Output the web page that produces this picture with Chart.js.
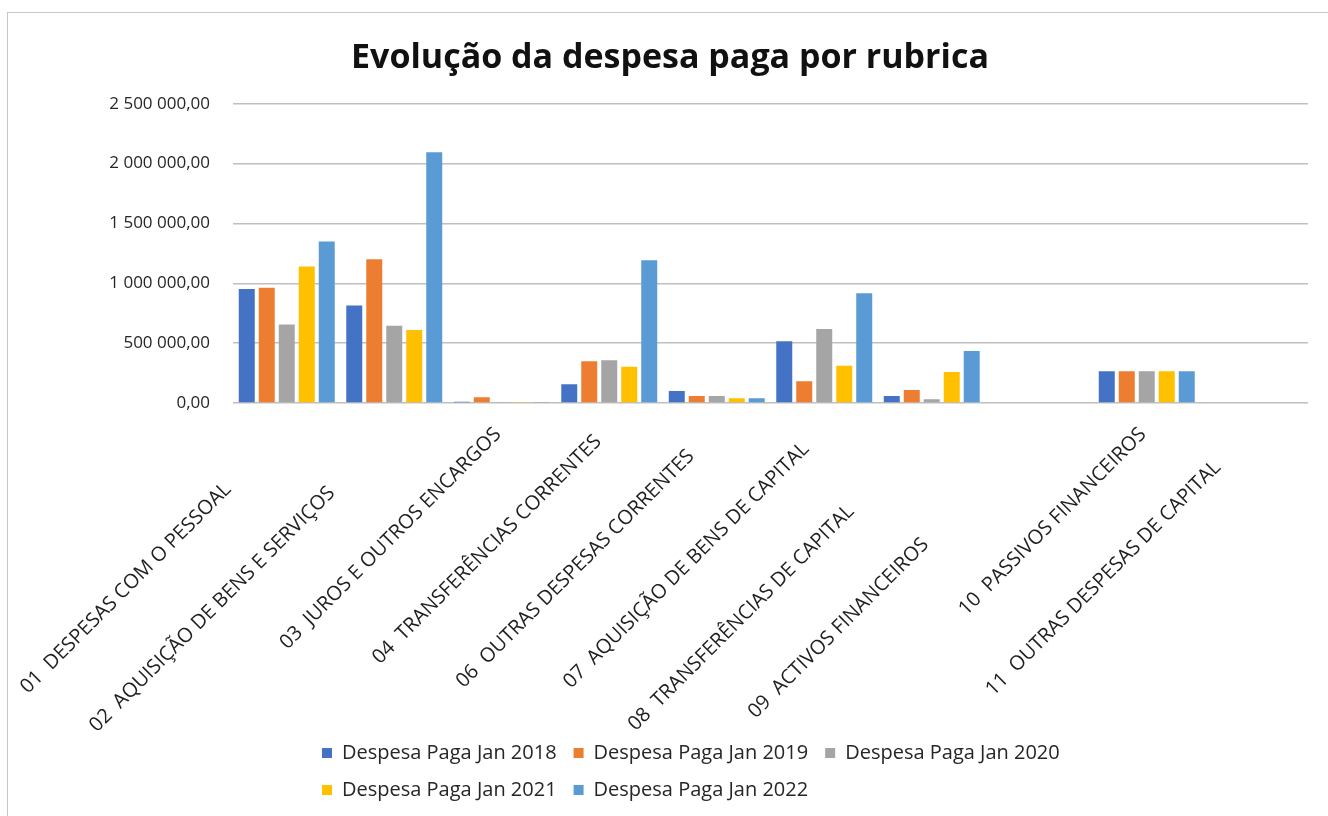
<!DOCTYPE html>
<html>
<head>
<meta charset="utf-8">
<script src="https://cdn.jsdelivr.net/npm/chart.js@4"></script>
<style>
  html, body { margin: 0; padding: 0; background: #fff; overflow: hidden; }
  #frame { position: absolute; left: 7px; top: 12px; width: 1400px; height: 900px;
           border-top: 1px solid #c6c6c6; border-left: 1px solid #c6c6c6; }
  #wrap { position: absolute; left: 0; top: 0; width: 1328px; height: 816px; }
</style>
</head>
<body>
<div id="frame"></div>
<div id="wrap"><canvas id="chart" width="1328" height="816"></canvas></div>
<script>
/* DADOS */
const categories = [
  '01  DESPESAS COM O PESSOAL' + ' '.repeat(16),
  '02  AQUISIÇÃO DE BENS E SERVIÇOS' + ' '.repeat(17),
  '03  JUROS E OUTROS ENCARGOS' + ' ',
  '04  TRANSFERÊNCIAS CORRENTES' + ' '.repeat(3),
  '06  OUTRAS DESPESAS CORRENTES' + ' '.repeat(7),
  '07  AQUISIÇÃO DE BENS DE CAPITAL' + ' '.repeat(5),
  '08  TRANSFERÊNCIAS DE CAPITAL' + ' '.repeat(22),
  '09  ACTIVOS FINANCEIROS' + ' '.repeat(31),
  '10  PASSIVOS FINANCEIROS' + ' ',
  '11  OUTRAS DESPESAS DE CAPITAL' + ' '.repeat(10)
];

const series = [
  'Despesa Paga Jan 2018',
  'Despesa Paga Jan 2019',
  'Despesa Paga Jan 2020',
  'Despesa Paga Jan 2021',
  'Despesa Paga Jan 2022'
];

const paga2018 = [953000, 814000, 11000, 156000, 100000, 516000, 58000, null, 266000, null];
const paga2019 = [964000, 1201000, 48000, 349000, 58000, 181000, 109000, null, 266000, null];
const paga2020 = [655000, 646000, 5000, 357000, 58000, 619000, 31000, null, 266000, null];
const paga2021 = [1140000, 610000, 4000, 303000, 39000, 312000, 259000, null, 266000, null];
const paga2022 = [1349000, 2096000, 8000, 1193000, 39000, 917000, 435000, null, 266000, null];

const yTicks = [0, 500000, 1000000, 1500000, 2000000, 2500000];

const colors = ['#4472C4', '#ED7D31', '#A5A5A5', '#FFC000', '#5B9BD5'];

/* FORMATO */
function formatValue(v) {
  const parts = Math.round(v).toString().replace(/\B(?=(\d{3})+(?!\d))/g, ' ');
  return parts + ',00';
}

/* LEGENDA EM DUAS LINHAS + TÍTULO */
const legendRows = {
  id: 'legendRows',
  beforeLayout(chart) {
    const legend = chart.legend;
    if (!legend || legend._rowsPatched) return;
    const update = legend.update.bind(legend);
    legend.update = (w, h, m) => {
      update(790, h, m);
      legend._realHeight = legend.height;
      // deixa os rótulos do eixo x passarem por baixo
      legend.height = legend.height - 24;
    };
    legend._rowsPatched = true;
  },
  afterLayout(chart) {
    const legend = chart.legend;
    legend.left = 305;
    legend.right = 1095;
    legend.width = 790;
    legend.height = legend._realHeight;
    legend.bottom = chart.height - 6;
    legend.top = legend.bottom - legend.height;

    const title = chart.titleBlock;
    title.left += 11;
    title.right += 11;
  }
};

/* GRÁFICO */
const ctx = document.getElementById('chart').getContext('2d');
const allData = [paga2018, paga2019, paga2020, paga2021, paga2022];

new Chart(ctx, {
  type: 'bar',
  data: {
    labels: categories,
    datasets: series.map((name, i) => ({
      label: name,
      data: allData[i],
      backgroundColor: colors[i],
      borderWidth: 0,
      categoryPercentage: 0.93,
      barPercentage: 0.8
    }))
  },
  plugins: [legendRows],
  options: {
    responsive: false,
    animation: false,
    layout: { padding: { left: 10, right: 20, top: 0, bottom: 6 } },
    plugins: {
      title: {
        display: true,
        text: 'Evolução da despesa paga por rubrica',
        color: '#111111',
        font: { family: 'Open Sans', size: 34, weight: 'bold' },
        padding: { top: 38, bottom: 25 }
      },
      legend: {
        position: 'bottom',
        align: 'start',
        labels: {
          boxWidth: 10,
          boxHeight: 10,
          padding: 17,
          color: '#262626',
          font: { family: 'Open Sans', size: 20 }
        }
      },
      tooltip: { enabled: false }
    },
    scales: {
      x: {
        grid: { display: false },
        border: { display: false },
        ticks: {
          autoSkip: false,
          minRotation: 45,
          maxRotation: 45,
          padding: 8,
          color: '#1f1f1f',
          font: { family: 'Open Sans', size: 20 }
        },
        afterFit(scale) { scale.height = 347; }
      },
      y: {
        min: 0,
        max: 2500000,
        afterBuildTicks(scale) { scale.ticks = yTicks.map(v => ({ value: v })); },
        grid: { color: '#bfbfbf', lineWidth: 1.5, drawTicks: false },
        border: { display: false },
        ticks: {
          padding: 23,
          color: '#262626',
          font: { family: 'Open Sans', size: 17 },
          callback: v => formatValue(v)
        },
        afterFit(scale) { scale.width = 223; }
      }
    }
  }
});
</script>
</body>
</html>
